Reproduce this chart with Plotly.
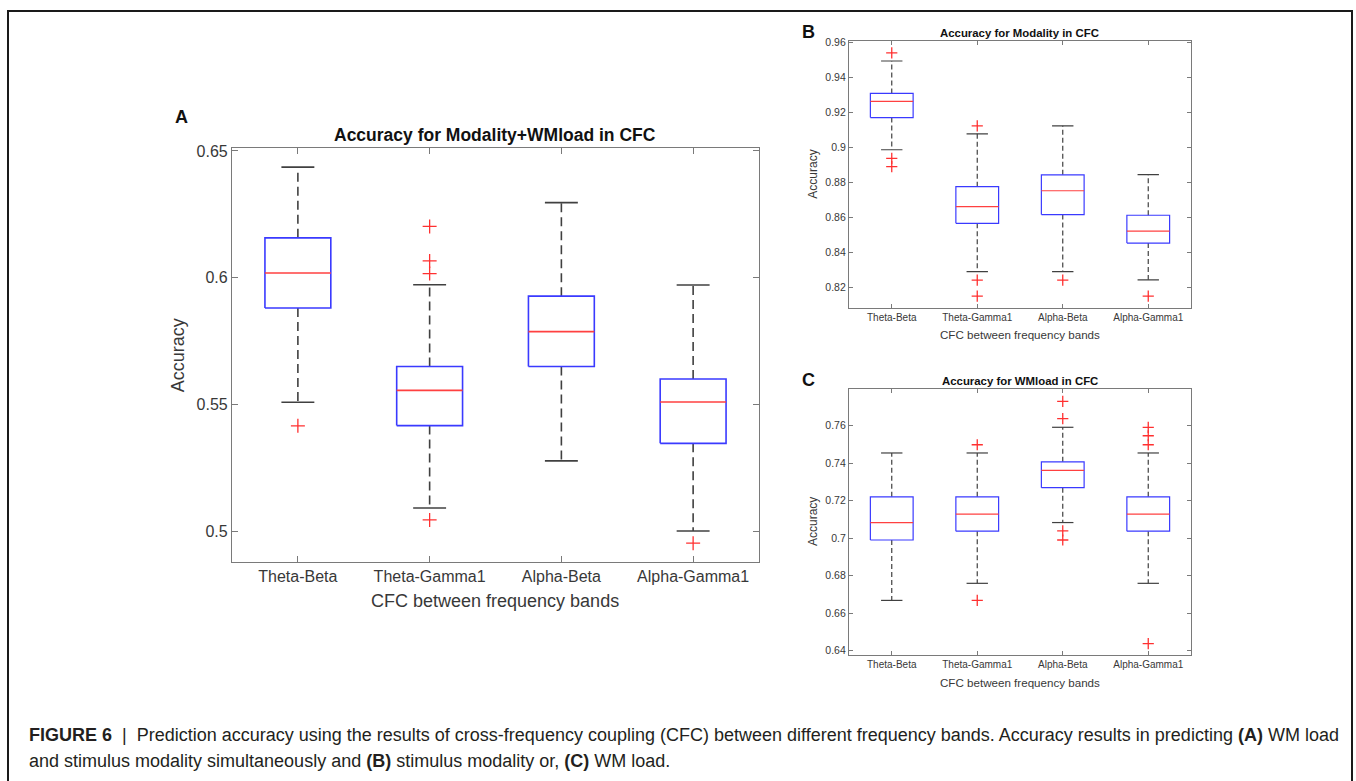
import plotly.graph_objects as go

W, H = 1356, 781

categories = ["Theta-Beta", "Theta-Gamma1", "Alpha-Beta", "Alpha-Gamma1"]

# Panel A: Modality+WMload
a_q1 = [0.5880, 0.5416, 0.5649, 0.5346]
a_med = [0.6018, 0.5555, 0.5787, 0.5509]
a_q3 = [0.6157, 0.5649, 0.5927, 0.5600]
a_lo = [0.5508, 0.5091, 0.5277, 0.5000]
a_hi = [0.6436, 0.5972, 0.6296, 0.5971]
a_out = [[0.5415], [0.6202, 0.6066, 0.6016, 0.5044], [], [0.4952]]
a_ticks = [0.5, 0.55, 0.6, 0.65]
a_ticktext = ["0.5", "0.55", "0.6", "0.65"]

# Panel B: Modality
b_q1 = [0.9169, 0.8565, 0.8615, 0.8452]
b_med = [0.9262, 0.8660, 0.8751, 0.8520]
b_q3 = [0.9307, 0.8774, 0.8842, 0.8611]
b_lo = [0.8985, 0.8289, 0.8289, 0.8242]
b_hi = [0.9492, 0.9076, 0.9122, 0.8843]
b_out = [[0.9538, 0.8936, 0.8889], [0.9122, 0.8240, 0.8149], [0.8240], [0.8149]]
b_ticks = [0.82, 0.84, 0.86, 0.88, 0.9, 0.92, 0.94, 0.96]
b_ticktext = ["0.82", "0.84", "0.86", "0.88", "0.9", "0.92", "0.94", "0.96"]

# Panel C: WMload
c_q1 = [0.6990, 0.7037, 0.7269, 0.7037]
c_med = [0.7083, 0.7128, 0.7361, 0.7128]
c_q3 = [0.7220, 0.7220, 0.7407, 0.7220]
c_lo = [0.6668, 0.6759, 0.7083, 0.6759]
c_hi = [0.7454, 0.7454, 0.7591, 0.7454]
c_out = [[], [0.7498, 0.6668], [0.7729, 0.7637, 0.7039, 0.6990], [0.7591, 0.7546, 0.7498, 0.6437]]
c_ticks = [0.64, 0.66, 0.68, 0.7, 0.72, 0.74, 0.76]
c_ticktext = ["0.64", "0.66", "0.68", "0.7", "0.72", "0.74", "0.76"]

FONT = "Liberation Sans, Arial, sans-serif"
TXT = "#383838"
AXC = "#7a7a7a"


def px(x):
    return x / W


def py(y):
    return 1 - y / H


fig = go.Figure()


def add_panel(ax, q1, med, q3, lo, hi, outs, lw, msize, dash):
    xa = "x" if ax == 1 else f"x{ax}"
    ya = "y" if ax == 1 else f"y{ax}"
    bx, by, mx, my, wx, wy, cx, cy, ox, oy = [], [], [], [], [], [], [], [], [], []
    hw, cw = 0.25, 0.125
    for i in range(len(categories)):
        p = i + 1
        bx += [p - hw, p + hw, p + hw, p - hw, p - hw, None]
        by += [q1[i], q1[i], q3[i], q3[i], q1[i], None]
        mx += [p - hw, p + hw, None]
        my += [med[i], med[i], None]
        wx += [p, p, None, p, p, None]
        wy += [q3[i], hi[i], None, q1[i], lo[i], None]
        cx += [p - cw, p + cw, None, p - cw, p + cw, None]
        cy += [hi[i], hi[i], None, lo[i], lo[i], None]
        for v in outs[i]:
            ox.append(p)
            oy.append(v)
    common = dict(xaxis=xa, yaxis=ya, showlegend=False, hoverinfo="skip")
    fig.add_trace(go.Scatter(x=wx, y=wy, mode="lines",
                             line=dict(color="#404040", width=lw, dash=dash), **common))
    fig.add_trace(go.Scatter(x=cx, y=cy, mode="lines",
                             line=dict(color="#404040", width=lw), **common))
    fig.add_trace(go.Scatter(x=bx, y=by, mode="lines",
                             line=dict(color="#3a3aff", width=lw), **common))
    fig.add_trace(go.Scatter(x=mx, y=my, mode="lines",
                             line=dict(color="#ff4040", width=lw), **common))
    fig.add_trace(go.Scatter(x=ox, y=oy, mode="markers",
                             marker=dict(symbol="cross-thin", size=msize,
                                         line=dict(color="#ff3030", width=1.3)),
                             **common))


add_panel(1, a_q1, a_med, a_q3, a_lo, a_hi, a_out, 1.6, 10, "9px,5px")
add_panel(2, b_q1, b_med, b_q3, b_lo, b_hi, b_out, 1.2, 8, "5px,3px")
add_panel(3, c_q1, c_med, c_q3, c_lo, c_hi, c_out, 1.2, 8, "5px,3px")


def xaxis_cfg(dom, fs, tl):
    return dict(domain=dom, range=[0.5, 4.5], tickvals=[1, 2, 3, 4], ticktext=categories,
                showline=True, linecolor=AXC, linewidth=1.2, mirror="ticks",
                ticks="inside", ticklen=tl, tickcolor=AXC, showgrid=False, zeroline=False,
                tickfont=dict(family=FONT, size=fs, color=TXT), fixedrange=True)


def yaxis_cfg(dom, rng, tv, tt, fs, tl, anchor):
    return dict(domain=dom, range=rng, tickvals=tv, ticktext=tt, anchor=anchor,
                showline=True, linecolor=AXC, linewidth=1.2, mirror="ticks",
                ticks="inside", ticklen=tl, tickcolor=AXC, showgrid=False, zeroline=False,
                tickfont=dict(family=FONT, size=fs, color=TXT), fixedrange=True)


fig.update_layout(
    width=W, height=H, margin=dict(l=0, r=0, t=0, b=0),
    paper_bgcolor="white", plot_bgcolor="white",
    xaxis=dict(**xaxis_cfg([px(232), px(759)], 16, 6), anchor="y"),
    yaxis=yaxis_cfg([py(561), py(144)], [0.4879, 0.6512], a_ticks, a_ticktext, 16, 6, "x"),
    xaxis2=dict(**xaxis_cfg([px(849), px(1191)], 10, 4), anchor="y2"),
    yaxis2=yaxis_cfg([py(305), py(36)], [0.8083, 0.9608], b_ticks, b_ticktext, 10.5, 4, "x2"),
    xaxis3=dict(**xaxis_cfg([px(849), px(1191)], 10, 4), anchor="y3"),
    yaxis3=yaxis_cfg([py(655), py(387)], [0.6377, 0.7795], c_ticks, c_ticktext, 10.5, 4, "x3"),
)

annotations = []


def text(x, y, s, size, bold=False, angle=0, color=TXT, xanchor="center"):
    annotations.append(dict(
        x=px(x), y=py(y), xref="paper", yref="paper", text=(f"<b>{s}</b>" if bold else s),
        showarrow=False, textangle=angle, xanchor=xanchor, yanchor="middle",
        font=dict(family=FONT, size=size, color=color)))


# Panel A
text(181, 113, "A", 18, bold=True, color="#111111")
text(495, 131, "Accuracy for Modality+WMload in CFC", 17.5, bold=True, color="#111111")
text(495, 601, "CFC between frequency bands", 18)
text(178, 353, "Accuracy", 18, angle=-90)
# Panel B
text(808, 27, "B", 18, bold=True, color="#111111")
text(1020, 28, "Accuracy for Modality in CFC", 11.4, bold=True, color="#111111")
text(1020, 332, "CFC between frequency bands", 11.6)
text(813, 171, "Accuracy", 12, angle=-90)
# Panel C
text(808, 378, "C", 18, bold=True, color="#111111")
text(1020, 379, "Accuracy for WMload in CFC", 11.4, bold=True, color="#111111")
text(1020, 683, "CFC between frequency bands", 11.6)
text(813, 521, "Accuracy", 12, angle=-90)

# Caption
caption1 = ("<b>FIGURE 6</b>&nbsp; | &nbsp;Prediction accuracy using the results of cross-frequency coupling (CFC) "
            "between different frequency bands. Accuracy results in predicting <b>(A)</b> WM load")
caption2 = "and stimulus modality simultaneously and <b>(B)</b> stimulus modality or, <b>(C)</b> WM load."
text(27, 736, caption1, 18, color="#231f20", xanchor="left")
text(27, 762, caption2, 18, color="#231f20", xanchor="left")

fig.update_layout(annotations=annotations)

# Figure frame
fig.add_shape(type="rect", xref="paper", yref="paper",
              x0=px(8), x1=px(1352), y0=-0.05, y1=py(6),
              line=dict(color="#1a1a1a", width=2), fillcolor="rgba(0,0,0,0)", layer="below")

fig.write_html("out.html")
